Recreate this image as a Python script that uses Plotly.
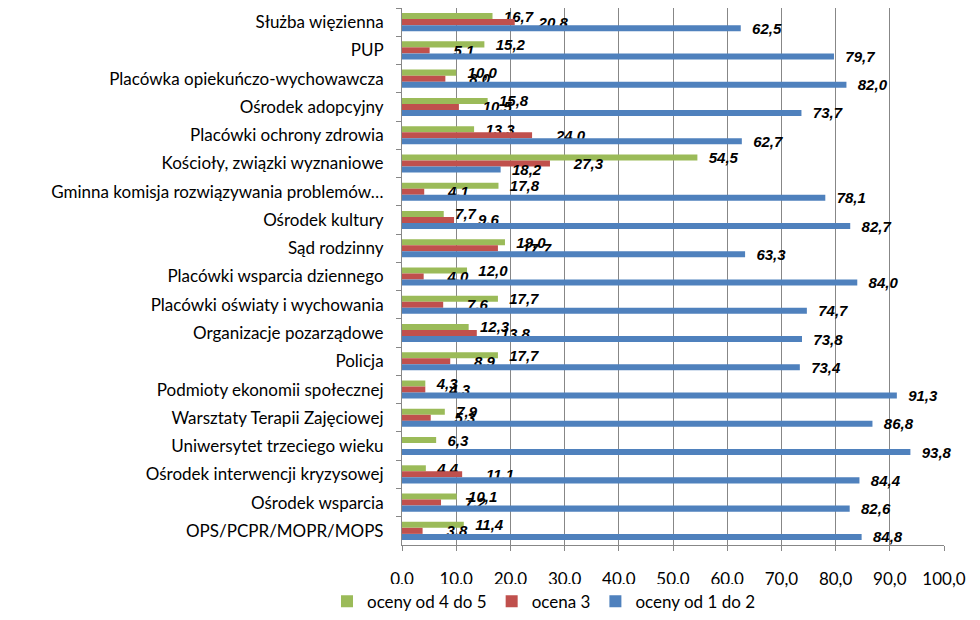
import plotly.graph_objects as go

categories = [
    "Służba więzienna",
    "PUP",
    "Placówka opiekuńczo-wychowawcza",
    "Ośrodek adopcyjny",
    "Placówki ochrony zdrowia",
    "Kościoły, związki wyznaniowe",
    "Gminna komisja rozwiązywania problemów…",
    "Ośrodek kultury",
    "Sąd rodzinny",
    "Placówki wsparcia dziennego",
    "Placówki oświaty i wychowania",
    "Organizacje pozarządowe",
    "Policja",
    "Podmioty ekonomii społecznej",
    "Warsztaty Terapii Zajęciowej",
    "Uniwersytet trzeciego wieku",
    "Ośrodek interwencji kryzysowej",
    "Ośrodek wsparcia",
    "OPS/PCPR/MOPR/MOPS",
]

oceny_4_5 = [16.7, 15.2, 10.0, 15.8, 13.3, 54.5, 17.8, 7.7, 19.0, 12.0, 17.7, 12.3, 17.7, 4.3, 7.9, 6.3, 4.4, 10.1, 11.4]
ocena_3 = [20.8, 5.1, 8.0, 10.5, 24.0, 27.3, 4.1, 9.6, 17.7, 4.0, 7.6, 13.8, 8.9, 4.3, 5.3, None, 11.1, 7.2, 3.8]
oceny_1_2 = [62.5, 79.7, 82.0, 73.7, 62.7, 18.2, 78.1, 82.7, 63.3, 84.0, 74.7, 73.8, 73.4, 91.3, 86.8, 93.8, 84.4, 82.6, 84.8]

x_ticks = [0, 10, 20, 30, 40, 50, 60, 70, 80, 90, 100]

series_names = ["oceny od 4 do 5", "ocena 3", "oceny od 1 do 2"]
series_values = [oceny_4_5, ocena_3, oceny_1_2]
series_colors = ["#9BBB59", "#C0504D", "#4F81BD"]
label_pad = ["  ", "     ", "  "]

label_font = dict(family="Liberation Sans", size=15, color="black", style="italic", weight="bold")
axis_font = dict(family="Lato", size=17, color="black")

fig = go.Figure()
for name, vals, color, pad in zip(series_names, series_values, series_colors, label_pad):
    fig.add_trace(go.Bar(
        y=categories, x=vals, name=name, orientation="h",
        marker=dict(color=color, line=dict(width=0)),
        texttemplate=pad + "%{x:.1f}", textposition="outside",
        textfont=label_font, constraintext="none", cliponaxis=False,
    ))

fig.update_layout(
    width=972, height=612,
    margin=dict(l=394, r=36, t=0, b=69),
    barmode="group", bargap=0.36, bargroupgap=0,
    separators=", ",
    plot_bgcolor="white", paper_bgcolor="white",
    font=axis_font,
    showlegend=True,
    legend=dict(orientation="h", x=0.262, xanchor="center", y=-0.072, yanchor="top",
                font=dict(family="Lato", size=17, color="black"),
                itemwidth=30, traceorder="normal", tracegroupgap=0),
)
fig.update_xaxes(
    range=[0, 100], tickvals=x_ticks, tickformat=".1f",
    showgrid=True, gridcolor="#878787", gridwidth=1,
    showline=True, linecolor="#878787", linewidth=1,
    ticks="outside", ticklen=5, tickcolor="#878787",
    ticklabelstandoff=14, zeroline=False, automargin=False,
    tickfont=axis_font,
)
fig.update_yaxes(
    autorange="reversed", type="category",
    showline=True, linecolor="#878787", linewidth=1,
    ticks="outside", ticklen=5, tickcolor="#878787", tickson="boundaries",
    ticklabelstandoff=14, showgrid=False, automargin=False,
    tickfont=axis_font,
)

fig.write_html("out.html")
